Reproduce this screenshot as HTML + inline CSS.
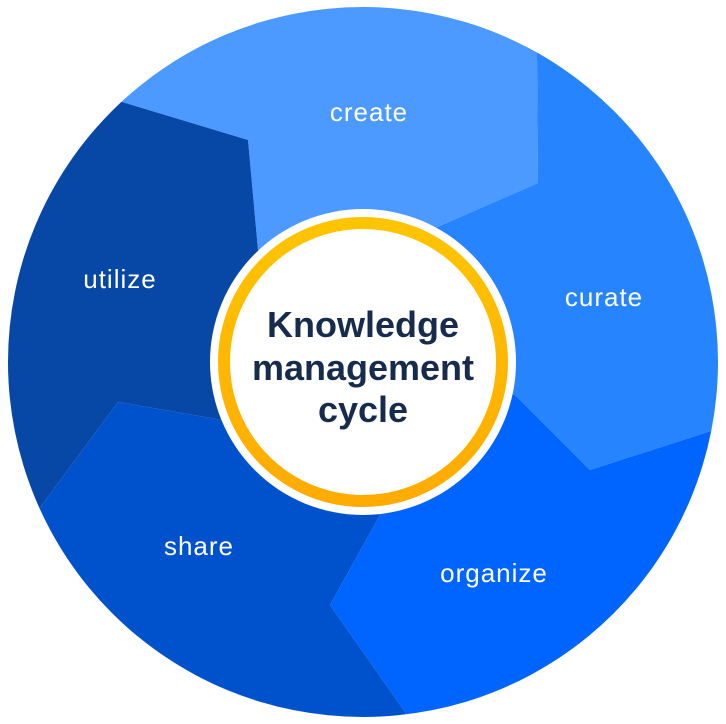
<!DOCTYPE html>
<html><head><meta charset="utf-8"><style>
html,body{margin:0;padding:0;background:#fff;width:726px;height:724px;overflow:hidden;}
svg{display:block;}
text{font-family:"Liberation Sans",sans-serif;}
</style></head><body>
<svg width="726" height="724" viewBox="0 0 726 724" xmlns="http://www.w3.org/2000/svg">
<defs>
<clipPath id="c"><circle cx="363" cy="362" r="355"/></clipPath>
<linearGradient id="y" x1="0" y1="0" x2="0" y2="1"><stop offset="0" stop-color="#ffc400"/><stop offset="1" stop-color="#ffab00"/></linearGradient>
</defs>
<g clip-path="url(#c)">
<polygon fill="#4c9aff" points="363,362 258,250 248,140 122,102 -100,30 -100,-100 536,-100 537,55 538,183 435,228"/>
<polygon fill="#2684ff" points="363,362 435,228 538,183 537,55 536,-100 900,-100 900,383 860,383 708,432 590,470 515,395"/>
<polygon fill="#0065ff" points="363,362 515,395 590,470 708,432 860,383 900,383 900,900 480,820 405,712 330,605 380,515"/>
<polygon fill="#0052cc" points="363,362 380,515 330,605 405,712 480,820 -100,900 -100,616 -40,616 42,505 118,402 222,420"/>
<polygon fill="#0747a6" points="363,362 222,420 118,402 42,505 -40,616 -100,616 -100,30 122,102 248,140 258,250"/>
</g>
<circle cx="363" cy="362" r="153" fill="#fff"/>
<circle cx="363" cy="362" r="139" fill="none" stroke="url(#y)" stroke-width="12"/>
<g fill="#fff" font-size="26" text-anchor="middle" letter-spacing="1">
<text x="369" y="121">create</text>
<text x="604" y="306">curate</text>
<text x="494" y="582">organize</text>
<text x="199" y="555">share</text>
<text x="120" y="288">utilize</text>
</g>
<g fill="#172b4d" font-size="36" font-weight="bold" text-anchor="middle">
<text x="363" y="337">Knowledge</text>
<text x="363" y="380">management</text>
<text x="363" y="422">cycle</text>
</g>
</svg>
</body></html>
